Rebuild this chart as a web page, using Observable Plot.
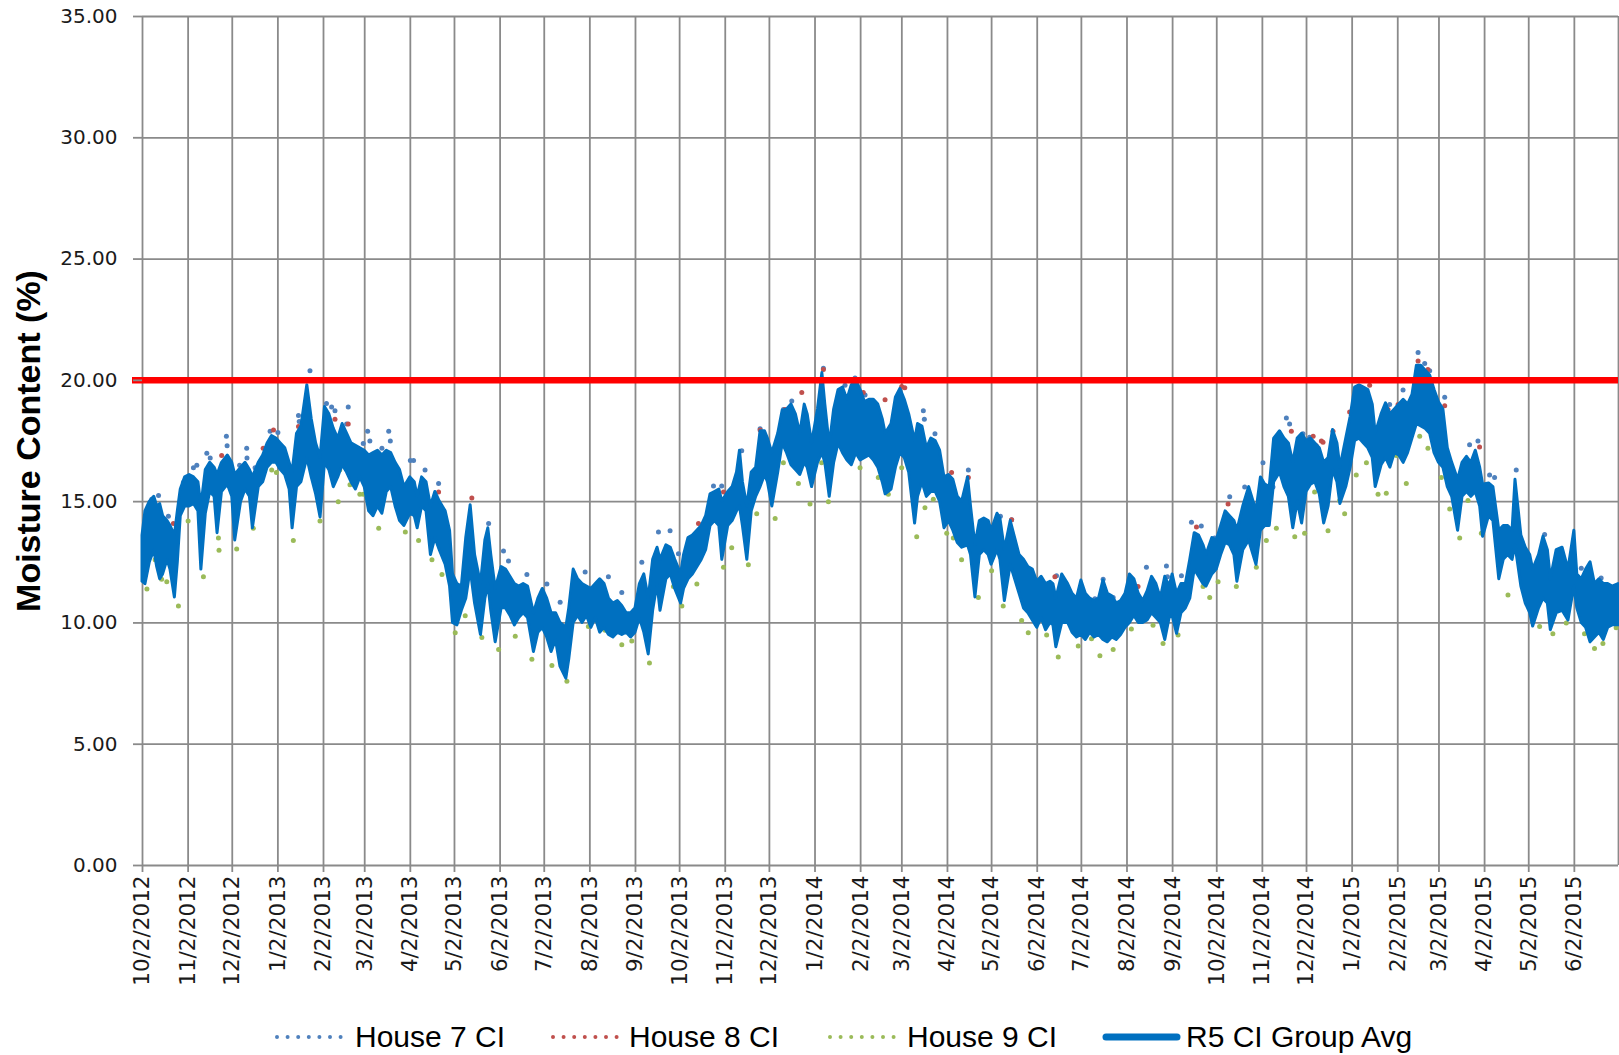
<!DOCTYPE html>
<html><head><meta charset="utf-8">
<script src="https://cdn.jsdelivr.net/npm/d3@7"></script>
<script src="https://cdn.jsdelivr.net/npm/@observablehq/plot@0.6"></script>
<style>
body{margin:0;background:#fff;}
#wrap{position:relative;width:1619px;height:1055px;overflow:hidden;background:#fff;}
#legend{position:absolute;left:0;top:1017px;width:1619px;height:40px;font-family:"Liberation Sans",Arial,sans-serif;font-size:30px;color:#000;}
.mk{position:absolute;top:15px;}
.tx{position:absolute;top:0;height:40px;line-height:40px;white-space:nowrap;}
</style></head><body><div id="wrap"><div id="chart"></div><div id="legend"></div></div>
<script>
// ---------------- data ----------------
const startDate = "2012-10-02";
const endDate = "2015-07-02";
const xTickLabels = ["10/2/2012","11/2/2012","12/2/2012","1/2/2013","2/2/2013","3/2/2013","4/2/2013","5/2/2013","6/2/2013","7/2/2013","8/2/2013","9/2/2013","10/2/2013","11/2/2013","12/2/2013","1/2/2014","2/2/2014","3/2/2014","4/2/2014","5/2/2014","6/2/2014","7/2/2014","8/2/2014","9/2/2014","10/2/2014","11/2/2014","12/2/2014","1/2/2015","2/2/2015","3/2/2015","4/2/2015","5/2/2015","6/2/2015"];
const yTicks = [0,5,10,15,20,25,30,35];
const threshold = 20;
const seriesNames = ["House 7 CI","House 8 CI","House 9 CI","R5 CI Group Avg"];
const seriesColors = ["#4f81bd","#c0504d","#9bbb59","#0070c0"];

// R5 CI Group Avg: [date, low of band, high of band]
const avgRange = [
["2012-10-02",11.7,13.6],["2012-10-04",11.6,14.6],["2012-10-07",12.5,15.0],["2012-10-10",13.0,15.2],["2012-10-12",12.3,14.8],["2012-10-14",11.8,14.9],["2012-10-16",12.0,14.4],["2012-10-19",12.6,14.2],["2012-10-21",12.2,14.0],["2012-10-24",11.05,13.6],["2012-10-26",12.5,14.6],["2012-10-28",14.4,15.5],["2012-10-31",14.8,16.0],
["2012-11-03",14.8,16.1],["2012-11-06",14.9,16.0],["2012-11-09",14.6,15.8],["2012-11-11",12.2,14.8],["2012-11-14",14.5,16.3],["2012-11-17",15.4,16.6],["2012-11-20",15.2,16.4],["2012-11-22",13.7,16.1],["2012-11-25",15.4,16.6],["2012-11-29",15.7,16.9],
["2012-12-02",15.2,16.6],["2012-12-04",13.4,16.1],["2012-12-08",15.0,16.4],["2012-12-11",15.5,16.6],["2012-12-14",15.2,16.3],["2012-12-16",13.9,16.0],["2012-12-20",15.6,16.6],["2012-12-23",15.8,16.9],["2012-12-26",16.4,17.4],["2012-12-29",16.6,17.7],
["2013-01-01",16.6,17.6],["2013-01-04",16.3,17.4],["2013-01-07",16.1,17.2],["2013-01-10",15.5,16.6],["2013-01-12",13.9,16.2],["2013-01-15",15.6,17.8],["2013-01-18",15.8,18.1],["2013-01-22",16.8,19.8],["2013-01-25",16.0,18.4],["2013-01-28",15.3,17.4],["2013-01-31",14.35,16.8],
["2013-02-03",16.6,18.9],["2013-02-06",16.3,18.6],["2013-02-09",15.6,18.0],["2013-02-12",16.0,17.6],["2013-02-15",16.5,18.2],["2013-02-18",16.2,17.8],["2013-02-21",15.8,17.4],["2013-02-24",15.5,17.3],["2013-02-27",16.0,17.2],
["2013-03-02",15.6,17.1],["2013-03-05",14.6,16.9],["2013-03-08",14.4,17.0],["2013-03-11",14.8,17.1],["2013-03-14",14.5,16.9],["2013-03-17",15.4,17.1],["2013-03-20",15.6,17.0],["2013-03-23",14.8,16.6],["2013-03-26",14.2,16.3],["2013-03-29",14.0,15.6],
["2013-04-02",14.5,16.0],["2013-04-05",14.4,15.8],["2013-04-07",13.9,15.2],["2013-04-10",14.8,16.0],["2013-04-13",14.6,15.8],["2013-04-16",12.8,14.8],["2013-04-19",13.5,15.4],["2013-04-22",13.0,15.0],["2013-04-26",12.4,14.6],["2013-04-29",11.5,13.8],
["2013-05-01",10.0,12.0],["2013-05-04",9.9,11.6],["2013-05-07",10.5,11.5],["2013-05-10",11.0,13.5],["2013-05-13",12.2,14.85],["2013-05-16",10.8,12.8],["2013-05-20",9.5,11.6],["2013-05-23",11.0,13.4],["2013-05-25",11.6,13.9],["2013-05-27",10.5,12.8],["2013-05-30",9.2,11.4],
["2013-06-03",10.6,12.3],["2013-06-06",10.6,12.2],["2013-06-09",10.3,11.9],["2013-06-12",9.9,11.6],["2013-06-15",10.2,11.5],["2013-06-18",10.4,11.6],["2013-06-21",10.2,11.5],["2013-06-25",8.8,10.4],["2013-06-28",9.6,11.0],
["2013-07-01",9.8,11.4],["2013-07-04",9.4,11.0],["2013-07-07",8.8,10.4],["2013-07-10",9.3,10.4],["2013-07-13",8.2,10.0],["2013-07-17",7.7,9.8],["2013-07-19",8.5,10.6],["2013-07-22",10.0,12.2],["2013-07-25",10.3,11.8],["2013-07-28",10.0,11.6],["2013-07-31",10.3,11.5],
["2013-08-03",9.8,11.4],["2013-08-06",10.2,11.6],["2013-08-09",9.6,11.8],["2013-08-12",9.8,11.6],["2013-08-15",9.5,11.0],["2013-08-18",9.4,10.8],["2013-08-21",9.6,10.9],["2013-08-24",9.5,10.7],["2013-08-27",9.6,10.4],["2013-08-30",9.4,10.4],
["2013-09-02",9.6,10.6],["2013-09-05",10.2,11.6],["2013-09-08",9.6,12.0],["2013-09-11",8.7,11.0],["2013-09-14",10.5,12.6],["2013-09-17",11.6,13.1],["2013-09-19",10.5,12.6],["2013-09-23",11.8,13.2],["2013-09-26",12.0,13.1],["2013-09-29",11.4,12.6],
["2013-10-03",10.8,12.0],["2013-10-05",11.4,12.8],["2013-10-08",11.8,13.5],["2013-10-11",12.0,13.6],["2013-10-14",12.3,13.8],["2013-10-17",12.6,14.0],["2013-10-20",13.0,14.4],["2013-10-23",14.0,15.3],["2013-10-26",14.2,15.4],["2013-10-29",14.0,15.5],["2013-10-31",12.6,15.0],
["2013-11-04",14.0,15.4],["2013-11-07",14.2,15.6],["2013-11-10",14.6,16.2],["2013-11-12",14.8,17.1],["2013-11-14",14.0,15.8],["2013-11-17",12.6,14.8],["2013-11-20",14.6,16.2],["2013-11-23",15.2,16.4],["2013-11-26",15.6,17.9],["2013-11-29",16.1,17.9],
["2013-12-01",15.8,17.6],["2013-12-04",14.8,17.0],["2013-12-08",16.2,17.8],["2013-12-11",17.4,18.75],["2013-12-14",17.0,18.8],["2013-12-17",16.5,19.0],["2013-12-20",16.3,18.6],["2013-12-23",16.1,17.8],["2013-12-26",16.6,19.0],["2013-12-28",16.4,18.6],["2013-12-31",15.6,17.4],
["2014-01-04",16.6,18.8],["2014-01-07",17.0,20.3],["2014-01-09",16.6,19.0],["2014-01-12",15.2,17.3],["2014-01-15",16.6,18.8],["2014-01-18",17.4,19.6],["2014-01-21",17.0,19.7],["2014-01-24",16.7,19.2],["2014-01-27",16.5,19.8],["2014-01-30",17.0,20.0],
["2014-02-02",16.7,19.6],["2014-02-05",16.8,19.1],["2014-02-08",16.9,19.2],["2014-02-11",16.7,19.2],["2014-02-14",16.4,19.0],["2014-02-17",15.8,18.4],["2014-02-19",15.3,17.8],["2014-02-23",15.5,18.2],["2014-02-26",16.4,19.3],
["2014-03-01",17.0,19.65],["2014-03-04",16.8,19.2],["2014-03-07",16.2,18.6],["2014-03-11",14.1,17.5],["2014-03-13",15.2,18.2],["2014-03-16",15.8,18.1],["2014-03-19",15.2,17.2],["2014-03-22",15.4,17.6],["2014-03-25",15.4,17.5],["2014-03-28",15.0,17.1],["2014-03-31",13.9,16.0],
["2014-04-03",14.2,16.1],["2014-04-06",13.8,15.9],["2014-04-09",13.3,15.2],["2014-04-12",13.1,15.0],["2014-04-16",13.2,16.0],["2014-04-18",12.8,14.8],["2014-04-21",11.05,13.2],["2014-04-24",12.8,14.2],["2014-04-27",13.0,14.3],["2014-04-30",12.8,14.2],
["2014-05-02",12.4,13.8],["2014-05-06",13.0,14.5],["2014-05-08",12.6,14.3],["2014-05-11",10.9,13.0],["2014-05-15",12.4,14.2],["2014-05-18",11.8,13.5],["2014-05-21",11.2,12.8],["2014-05-24",10.6,12.6],["2014-05-27",10.4,12.3],["2014-05-30",10.1,12.2],
["2014-06-02",9.8,11.7],["2014-06-05",10.2,11.9],["2014-06-08",9.7,11.6],["2014-06-11",10.0,11.7],["2014-06-13",9.9,11.6],["2014-06-15",9.0,11.0],["2014-06-19",10.0,12.0],["2014-06-23",10.0,11.6],["2014-06-26",9.6,11.2],["2014-06-29",9.4,11.0],
["2014-07-02",9.5,11.75],["2014-07-05",9.3,11.2],["2014-07-08",9.6,11.0],["2014-07-11",9.4,10.9],["2014-07-14",9.5,11.0],["2014-07-17",9.3,11.75],["2014-07-20",9.2,11.2],["2014-07-23",9.4,11.1],["2014-07-26",9.3,10.8],["2014-07-29",9.5,10.9],
["2014-08-01",9.8,11.2],["2014-08-04",10.0,12.0],["2014-08-07",10.3,11.8],["2014-08-10",10.0,11.2],["2014-08-13",10.0,10.9],["2014-08-16",10.1,11.3],["2014-08-19",10.4,11.9],["2014-08-22",10.2,11.6],["2014-08-25",10.0,11.0],["2014-08-28",9.3,11.9],["2014-08-31",10.2,11.5],
["2014-09-02",10.3,12.0],["2014-09-05",9.55,11.2],["2014-09-08",10.4,11.6],["2014-09-11",10.6,11.6],["2014-09-14",11.0,12.6],["2014-09-17",12.2,13.7],["2014-09-20",11.9,13.6],["2014-09-23",11.6,13.2],["2014-09-25",11.5,12.8],["2014-09-29",12.0,13.5],
["2014-10-02",12.2,13.4],["2014-10-05",12.8,14.0],["2014-10-08",13.3,14.6],["2014-10-11",13.2,14.4],["2014-10-14",12.8,14.2],["2014-10-16",11.7,13.8],["2014-10-20",13.0,14.8],["2014-10-24",13.4,15.6],["2014-10-29",12.4,14.6],
["2014-11-01",13.8,16.0],["2014-11-04",14.0,15.7],["2014-11-07",14.0,15.6],["2014-11-10",15.8,17.6],["2014-11-14",16.2,17.9],["2014-11-17",15.6,17.6],["2014-11-20",15.2,17.4],["2014-11-23",13.9,16.6],["2014-11-26",15.0,17.6],["2014-11-29",14.1,17.8],
["2014-12-02",15.4,17.5],["2014-12-05",15.7,17.6],["2014-12-08",15.8,17.4],["2014-12-11",15.3,17.2],["2014-12-14",14.1,16.6],["2014-12-17",14.8,16.8],["2014-12-20",16.3,17.95],["2014-12-23",15.8,17.4],["2014-12-25",14.9,16.4],["2014-12-29",15.6,17.6],
["2015-01-01",16.4,18.5],["2015-01-04",17.5,19.7],["2015-01-07",17.6,19.8],["2015-01-10",17.4,19.7],["2015-01-13",17.2,19.6],["2015-01-16",16.8,19.0],["2015-01-18",15.6,17.8],["2015-01-22",16.5,18.6],["2015-01-25",16.8,19.05],["2015-01-28",16.4,18.6],["2015-01-31",17.0,18.8],
["2015-02-03",16.9,19.0],["2015-02-06",16.6,19.2],["2015-02-09",17.0,19.0],["2015-02-12",17.6,19.4],["2015-02-15",18.2,20.6],["2015-02-18",18.1,20.6],["2015-02-21",18.0,20.4],["2015-02-24",17.8,20.2],["2015-02-27",17.0,19.6],
["2015-03-02",16.6,19.1],["2015-03-05",16.4,18.8],["2015-03-08",15.6,17.2],["2015-03-11",15.2,16.6],["2015-03-15",13.8,15.9],["2015-03-18",15.2,16.6],["2015-03-21",15.4,16.85],["2015-03-24",15.2,16.6],["2015-03-27",15.4,17.1],["2015-03-30",14.8,16.4],
["2015-04-01",13.55,15.7],["2015-04-05",14.4,15.75],["2015-04-08",14.2,15.6],["2015-04-12",11.8,13.8],["2015-04-15",12.6,14.0],["2015-04-18",12.8,14.0],["2015-04-21",12.6,13.8],["2015-04-23",13.2,15.9],["2015-04-27",11.5,13.6],["2015-04-30",10.8,13.1],
["2015-05-03",10.4,12.8],["2015-05-05",9.85,12.2],["2015-05-09",10.6,12.8],["2015-05-12",11.0,13.55],["2015-05-15",10.8,13.0],["2015-05-17",9.7,11.8],["2015-05-21",10.4,13.0],["2015-05-25",10.5,13.1],["2015-05-29",10.1,12.2],
["2015-06-02",11.5,13.8],["2015-06-04",10.6,12.0],["2015-06-07",10.0,11.8],["2015-06-10",9.8,12.2],["2015-06-13",9.2,12.5],["2015-06-16",9.4,11.6],["2015-06-19",9.6,11.8],["2015-06-22",9.3,11.6],["2015-06-25",9.8,11.6],["2015-06-28",9.9,11.5],["2015-07-02",9.9,11.6]
];

// Individual house readings visible outside the average band: [days since startDate, value]
const house7 = [
[0.7,13.7],[6.3,15.1],[10.9,15.25],[17.6,14.4],[27.8,15.8],[34.6,16.4],[36.9,16.5],[43.7,17.0],[46,16.8],[57,17.7],[57.5,17.3],[66,16.5],[70.8,17.2],[71,16.8],[76.5,16.4],[86.7,17.9],[92,17.85],[106,18.55],[106.5,18.3],[113.8,20.4],[125,19.05],[128.5,18.9],[130.8,18.75],[138.7,18.2],[139.8,18.9],[147.7,17.1],[150,17.4],[153,17.9],[154.5,17.5],
[162.7,17.2],[167.3,17.9],[168.4,17.5],[182,16.7],[184.2,16.7],[192,16.3],[201.2,15.75],[235.2,14.1],[245.3,12.97],[248.7,12.55],[261.2,12.0],[274.8,11.6],[283.8,10.85],[300.8,12.1],[316.6,11.9],
[325.7,11.25],[339.3,12.5],[350.6,13.75],[358.5,13.8],[364.2,12.85],[388,15.65],[393.6,15.65],[407.2,17.1],[419.7,18.0],[435.5,18.8],[441.2,19.15],[448,20.0],[462.7,20.5],[477.4,19.8],[484.2,20.1],
[491,19.4],[530.6,18.75],[531.3,18.4],[538.5,17.8],[561.2,16.3],[583,14.4],[590.6,14.25],[605.3,11.8],[621.1,11.95],[647.2,11.0],[652.8,11.8],[659.6,11.05],
[675.4,11.5],[682.2,12.3],[695.8,12.35],[696.5,11.9],[706,11.95],[712.8,14.15],[719.5,14.0],[728.6,13.5],[738.8,15.2],[749,15.6],[761.4,16.6],[768.2,15.6],[777.3,18.45],[779.5,18.2],[788.6,17.8],[793.1,17.65],
[847.5,19.0],[856.6,19.6],[866.8,21.15],[871.3,20.7],[874.7,20.4],[884.9,19.3],[901.8,17.35],[907.5,17.5],[915.4,16.1],[918.8,16.0],[933.5,16.3],[952.8,13.65],[977.7,12.25],[991.2,11.85]
];
const house8 = [
[21,14.1],[53.8,16.9],[82,17.2],[89,17.95],[106,18.1],[130.8,18.4],[139.8,18.2],[201.2,15.4],[223.8,15.15],
[373.3,13.4],[377.8,14.1],[394.8,15.4],[402.7,15.7],[419.7,17.95],[436.6,18.8],[448,19.5],[462.7,20.45],[471.7,17.6],[489.8,19.5],
[504.6,19.2],[515.9,19.75],[518,19.7],[549.8,16.2],[561.2,16.0],[590.6,14.25],[597.4,12.6],[620,11.9],
[676.5,11.5],[691.3,11.2],[716.2,13.95],[737.7,14.9],[780.7,17.9],[795.5,17.7],[797.6,17.3],[801.1,17.5],[802.2,17.45],[809,17.9],[820.3,18.7],[826,19.65],
[833.9,19.8],[846.4,18.8],[853.2,19.0],[866.8,20.8],[873.5,20.45],[884.9,18.95],[908.6,17.25]
];
const house9 = [
[3,11.4],[8.6,12.6],[13,11.8],[16.5,11.7],[24.4,10.7],[31,14.2],[41.4,11.9],[51.6,13.5],[52,13.0],[64,13.05],[75.3,13.9],[87.8,16.3],[91,16.2],[102.5,13.4],[120.6,14.2],[133,15.0],[134,16.3],[141,15.7],[147.7,15.3],[150,15.3],
[160.5,13.9],[169.5,15.7],[178.6,13.75],[187.6,13.4],[196.7,12.6],[203.5,12.0],[212.5,9.6],[219.3,10.3],[230.6,9.4],[242,8.9],[253.3,9.45],[264.6,8.5],[278.2,8.25],[288.4,7.6],[303,9.85],[314.4,9.7],[325.7,9.1],
[332.5,9.25],[338.2,10.1],[344.5,8.35],[360.8,11.5],[366.5,10.7],[376.7,11.6],[390.2,14.2],[394.8,12.3],[400.4,13.1],[411.7,12.4],[417.4,14.5],[429.9,14.3],[435.5,16.6],[445.7,15.75],[453.6,14.9],[461.5,16.6],[466.1,15.0],[480.8,17.65],[487.6,16.4],
[500,16.0],[506.8,15.3],[515.9,16.4],[526.1,13.55],[531.7,14.75],[537.4,15.1],[546.5,13.7],[551,13.5],[556.6,12.6],[568,11.05],[577,12.15],[584.9,10.7],[597.4,10.1],[601.9,9.6],[614.4,9.5],[622.3,8.6],[635.9,9.05],[644.9,9.35],[650.6,8.65],[659.6,8.9],
[672,9.75],[686.7,9.9],[693.5,9.15],[703.7,9.5],[713.9,12.55],[720.7,11.5],[725.2,11.05],[730.9,11.7],[743.3,11.5],[756.9,12.3],[763.7,13.4],[770.5,13.9],[776.1,16.05],[783,13.55],[789.7,13.7],[796.5,15.4],[805.6,13.8],[813.5,15.05],[816.9,14.5],[824.8,16.1],
[831.7,16.6],[839.6,15.3],[845.2,15.35],[852,16.9],[858.8,15.75],[867.9,17.7],[873.5,17.2],[882.6,16.0],[888.3,14.7],[895.1,13.5],[900.7,15.05],[909.8,13.7],[922.2,12.9],[927.9,11.15],[942.6,10.7],[949.4,9.85],[958.4,9.55],[967.5,10.0],[979.9,9.55],[986.7,8.95],[992.4,9.15],[1001.4,9.8]
];

// ---------------- build ----------------
const parseISO = d3.utcParse("%Y-%m-%d");
const parseTick = d3.utcParse("%m/%d/%Y");
const start = parseISO(startDate), end = parseISO(endDate);
const tickDates = xTickLabels.map(parseTick);
const gridDates = tickDates.concat([end]);
const avgData = avgRange.map(([d, lo, hi]) => ({date: parseISO(d), lo, hi}));
const toDots = arr => arr.map(([day, v]) => ({date: new Date(+start + day * 864e5), v}));
const gridColor = "#8a8a8a";
const fmtTick = d3.utcFormat("%-m/%-d/%Y");

const chart = Plot.plot({
  width: 1619, height: 1005,
  marginLeft: 142, marginRight: 1, marginTop: 16, marginBottom: 140,
  style: {fontFamily: "'DejaVu Sans', sans-serif", background: "#fff", color: "#1a1a1a"},
  x: {type: "utc", domain: [start, end]},
  y: {domain: [0, 35]},
  marks: [
    Plot.ruleY(yTicks, {stroke: gridColor, strokeWidth: 1.8}),
    Plot.ruleX(gridDates, {stroke: gridColor, strokeWidth: 1.8}),
    Plot.dot(toDots(house7), {x: "date", y: "v", r: 2.5, fill: seriesColors[0], stroke: null}),
    Plot.dot(toDots(house8), {x: "date", y: "v", r: 2.5, fill: seriesColors[1], stroke: null}),
    Plot.dot(toDots(house9), {x: "date", y: "v", r: 2.5, fill: seriesColors[2], stroke: null}),
    Plot.areaY(avgData, {x: "date", y1: "lo", y2: "hi", fill: seriesColors[3], stroke: seriesColors[3], strokeWidth: 3, strokeLinejoin: "round", curve: "linear"}),
    Plot.ruleY([threshold], {stroke: "#ff0000", strokeWidth: 6.5, insetLeft: -10}),
    Plot.axisY(yTicks, {tickFormat: d => d.toFixed(2), tickSize: 9, tickPadding: 16, fontSize: 20, stroke: gridColor, strokeWidth: 1.8, fill: "#1a1a1a", label: null}),
    Plot.axisX(tickDates, {tickFormat: fmtTick, tickRotate: -90, tickSize: 7, tickPadding: 3, fontSize: 21.5, stroke: gridColor, strokeWidth: 1.8, fill: "#1a1a1a", label: null}),
    Plot.text(["Moisture Content (%)"], {frameAnchor: "left", textAnchor: "middle", rotate: -90, dx: -113, fontSize: 34, fontWeight: "bold", fontFamily: "'Liberation Sans', Arial, sans-serif", fill: "#000"})
  ]
});
document.getElementById("chart").appendChild(chart);

// ---------------- legend ----------------
const legendPos = [
  {mk: 277, mw: 64, tx: 355},
  {mk: 553, mw: 64, tx: 629},
  {mk: 830, mw: 64, tx: 907},
  {mk: 1106, mw: 71, tx: 1186}
];
const legend = document.getElementById("legend");
seriesNames.forEach((name, i) => {
  const p = legendPos[i];
  const svg = d3.create("svg").attr("class", "mk").attr("width", p.mw + 8).attr("height", 10)
    .style("left", (p.mk - 4) + "px");
  const line = svg.append("line").attr("x1", 4).attr("x2", p.mw + 4).attr("y1", 5).attr("y2", 5)
    .attr("stroke", seriesColors[i]).attr("stroke-linecap", "round");
  if (i < 3) line.attr("stroke-width", 4).attr("stroke-dasharray", "0 10.6");
  else line.attr("stroke-width", 7);
  legend.appendChild(svg.node());
  const t = document.createElement("div");
  t.className = "tx"; t.style.left = p.tx + "px"; t.textContent = name;
  legend.appendChild(t);
});
</script>
</body></html>
